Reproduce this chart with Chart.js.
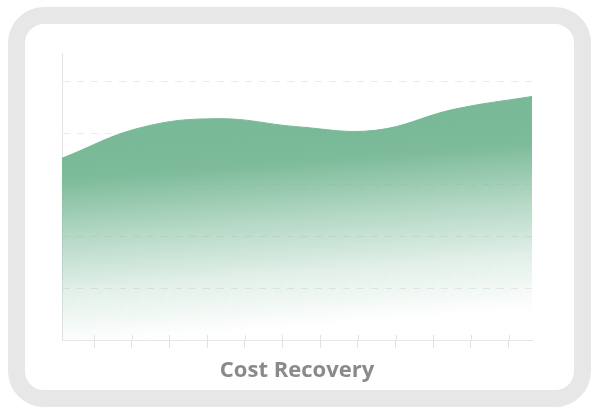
<!DOCTYPE html>
<html>
<head>
<meta charset="utf-8">
<script src="https://cdn.jsdelivr.net/npm/chart.js@4.4.1/dist/chart.umd.min.js"></script>
<style>
  html, body { margin: 0; padding: 0; background: #ffffff; }
  #wrap { position: relative; width: 600px; height: 416px; overflow: hidden; }
  #card { position: absolute; left: 8px; top: 7px; width: 549px; height: 366px;
          border: 17.5px solid #e6e7e6; border-radius: 36px; background: #ffffff; }
  #c { position: absolute; left: 0; top: 0; }
</style>
</head>
<body>
<div id="wrap">
  <div id="card"></div>
  <canvas id="c" width="600" height="416"></canvas>
</div>
<script>
// ---- data ----
const categories = ["P1", "P2", "P3", "P4", "P5", "P6", "P7"];
const costRecovery = [70.3, 82.1, 85.6, 82.5, 81.1, 89.2, 94.2];
const yTickStep = 20;
const yMax = 111;
const xTickMin = -0.85;
const xTickMax = 11.62;
const chartTitle = "Cost Recovery";

const tickUp = {
  id: 'tickUp',
  afterDraw(chart) {
    const s = chart.scales.x2;
    const c = chart.ctx;
    c.save();
    c.strokeStyle = '#e2e2e2';
    c.lineWidth = 1;
    s.ticks.forEach(t => {
      const px = Math.round(s.getPixelForValue(t.value)) + 0.5;
      c.beginPath();
      c.moveTo(px, s.top - 5);
      c.lineTo(px, s.top);
      c.stroke();
    });
    c.restore();
  }
};

new Chart(document.getElementById('c'), {
  type: 'line',
  data: {
    labels: categories,
    datasets: [{
      data: costRecovery,
      fill: 'origin',
      tension: 0.4,
      pointRadius: 0,
      borderWidth: 1,
      borderColor: 'rgb(120,185,150)',
      backgroundColor: (ctx) => {
        const { chart } = ctx;
        const a = chart.chartArea;
        if (!a) return 'rgba(121,185,151,0.6)';
        const g = chart.ctx.createLinearGradient(a.left, a.top + 97, a.left + 15, a.bottom + 5);
        g.addColorStop(0, 'rgba(121,185,151,1)');
        g.addColorStop(0.15, 'rgba(121,185,151,0.97)');
        g.addColorStop(0.45, 'rgba(121,185,151,0.55)');
        g.addColorStop(0.72, 'rgba(121,185,151,0.22)');
        g.addColorStop(1, 'rgba(121,185,151,0)');
        return g;
      }
    }]
  },
  options: {
    responsive: false,
    animation: false,
    layout: { padding: { left: 62, right: 68, top: 53, bottom: 32 } },
    plugins: {
      legend: { display: false },
      tooltip: { enabled: false },
      title: {
        display: true,
        text: chartTitle,
        position: 'bottom',
        color: '#8a8a8a',
        font: { family: 'Open Sans', size: 22, weight: 'bold', lineHeight: 1.2 },
        padding: { top: 9.6, bottom: 0 }
      }
    },
    scales: {
      x: { display: false, offset: false },
      x2: {
        type: 'linear',
        position: 'bottom',
        min: xTickMin,
        max: xTickMax,
        ticks: { display: false, stepSize: 1, includeBounds: false },
        grid: { drawOnChartArea: false, tickLength: 8, tickColor: '#e2e2e2', color: '#e2e2e2' },
        border: { display: true, color: '#e6e6e6', width: 1 }
      },
      y: {
        min: 0,
        max: yMax,
        ticks: { display: false, stepSize: yTickStep, includeBounds: false },
        grid: { drawTicks: false, color: '#ebebeb', lineWidth: 1 },
        border: { display: true, color: '#e6e6e6', width: 1, dash: [7, 7] },
        afterFit: (s) => { s.width = 0; }
      }
    }
  },
  plugins: [tickUp]
});
</script>
</body>
</html>
